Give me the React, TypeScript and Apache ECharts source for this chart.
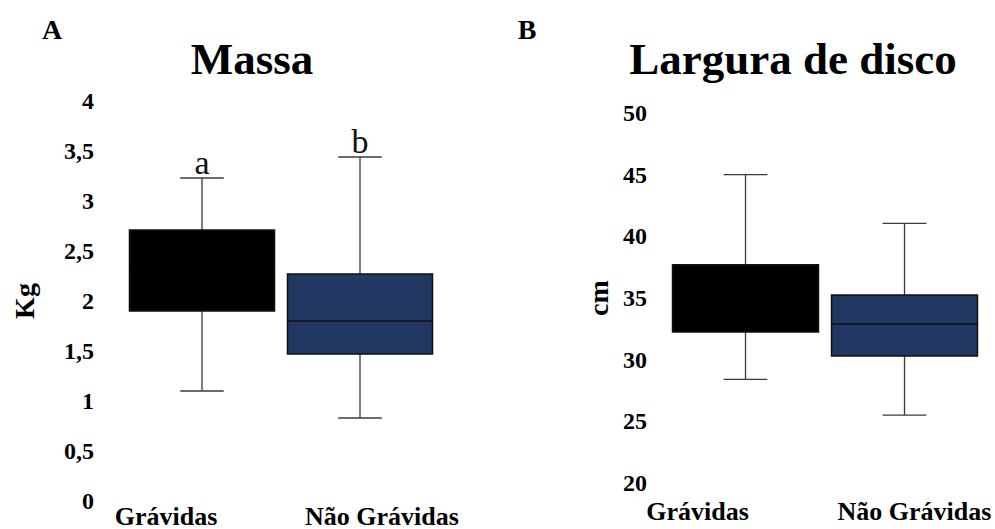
import React, { useEffect, useRef } from "react";
import * as echarts from "echarts";

// ---------- data ----------
const categories = ["Grávidas", "Não Grávidas"];

// Painel A – Massa (Kg)
const massaMin = [1.1, 0.83];
const massaQ1 = [1.9, 1.47];
const massaMedian = [2.3, 1.8];
const massaQ3 = [2.71, 2.27];
const massaMax = [3.23, 3.44];
const massaLetters = ["a", "b"];
const massaAxis = { min: 0, max: 4, interval: 0.5 };

// Painel B – Largura de disco (cm)
const discoMin = [28.4, 25.5];
const discoQ1 = [32.25, 30.3];
const discoMedian = [34.5, 32.9];
const discoQ3 = [37.7, 35.25];
const discoMax = [45.0, 41.05];
const discoAxis = { min: 20, max: 50, interval: 5 };

const panelLabels = ["A", "B"];
const panelTitles = ["Massa", "Largura de disco"];
const axisNames = ["Kg", "cm"];

const boxFills = ["#000000", "#213863"];
const SERIF = "Liberation Serif, serif";

function rows(mn: number[], q1: number[], md: number[], q3: number[], mx: number[]) {
  return categories.map((_, i) => [i, mn[i], q1[i], md[i], q3[i], mx[i]]);
}

function makeRender(letters: string[] | null) {
  return (params: any, api: any) => {
    const c = api.value(0);
    const lo = api.coord([c, api.value(1)]);
    const q1 = api.coord([c, api.value(2)]);
    const md = api.coord([c, api.value(3)]);
    const q3 = api.coord([c, api.value(4)]);
    const hi = api.coord([c, api.value(5)]);
    const band = api.size([1, 0])[0];
    const bw = band * 0.918;
    const cap = bw * 0.15;
    const x = lo[0];
    const whisker = { stroke: "#3a3a3a", lineWidth: 1.3 };
    const fill = boxFills[params.dataIndex];
    const children: any[] = [
      { type: "line", shape: { x1: x, y1: q3[1], x2: x, y2: hi[1] }, style: whisker },
      { type: "line", shape: { x1: x, y1: q1[1], x2: x, y2: lo[1] }, style: whisker },
      { type: "line", shape: { x1: x - cap, y1: hi[1], x2: x + cap, y2: hi[1] }, style: whisker },
      { type: "line", shape: { x1: x - cap, y1: lo[1], x2: x + cap, y2: lo[1] }, style: whisker },
      {
        type: "rect",
        shape: { x: x - bw / 2, y: q3[1], width: bw, height: q1[1] - q3[1] },
        style: { fill, stroke: "#111", lineWidth: 1.5 },
      },
      {
        type: "line",
        shape: { x1: x - bw / 2, y1: md[1], x2: x + bw / 2, y2: md[1] },
        style: { stroke: params.dataIndex === 0 ? fill : "#111", lineWidth: 1.5 },
      },
    ];
    if (letters) {
      children.push({
        type: "text",
        x,
        y: hi[1] + 1,
        style: {
          text: letters[params.dataIndex],
          fill: "#111",
          fontSize: 34,
          fontFamily: SERIF,
          align: "center",
          verticalAlign: "bottom",
        },
      });
    }
    return { type: "group", children };
  };
}

export default function App() {
  const ref = useRef<HTMLDivElement>(null);
  useEffect(() => {
    if (!ref.current) return;
    const chart = echarts.init(ref.current, null, { renderer: "svg" });
    const tickLabel = {
      color: "#000",
      fontFamily: SERIF,
      fontWeight: "bold" as const,
      fontSize: 24,
    };
    const xLabel = (shiftL: number, shiftR: number, margin: number) => ({
      interval: 0,
      margin,
      formatter: (v: string, i: number) => (i === 0 ? `{l|${v}}` : `{r|${v}}`),
      rich: {
        l: { fontFamily: SERIF, fontWeight: "bold", fontSize: 26, color: "#000", padding: [0, shiftL * 2, 0, 0] },
        r: { fontFamily: SERIF, fontWeight: "bold", fontSize: 26, color: "#000", padding: [0, 0, 0, shiftR * 2] },
      },
    });
    const nameStyle = { color: "#000", fontFamily: SERIF, fontWeight: "bold", fontSize: 28 };
    const textStyle = (size: number) => ({ fill: "#000", fontFamily: SERIF, fontWeight: "bold", fontSize: size, align: "center", verticalAlign: "middle" });
    const option: any = {
      animation: false,
      grid: [
        { left: 123, width: 316, top: 101, height: 400, outerBoundsMode: "none", containLabel: false },
        { left: 666, width: 318, top: 113, height: 370, outerBoundsMode: "none", containLabel: false },
      ],
      xAxis: [
        {
          gridIndex: 0,
          type: "category",
          data: categories,
          axisLine: { show: false },
          axisTick: { show: false },
          axisLabel: xLabel(36, 22, 2),
        },
        {
          gridIndex: 1,
          type: "category",
          data: categories,
          axisLine: { show: false },
          axisTick: { show: false },
          axisLabel: xLabel(48, 10, 15),
        },
      ],
      yAxis: [
        {
          gridIndex: 0,
          type: "value",
          min: massaAxis.min,
          max: massaAxis.max,
          interval: massaAxis.interval,
          axisLine: { show: false },
          axisTick: { show: false },
          splitLine: { show: false },
          axisLabel: { ...tickLabel, margin: 29, formatter: (v: number) => String(v).replace(".", ",") },
          name: axisNames[0],
          nameLocation: "middle",
          nameRotate: 90,
          nameGap: 85,
          nameTextStyle: nameStyle,
        },
        {
          gridIndex: 1,
          type: "value",
          min: discoAxis.min,
          max: discoAxis.max,
          interval: discoAxis.interval,
          axisLine: { show: false },
          axisTick: { show: false },
          splitLine: { show: false },
          axisLabel: { ...tickLabel, margin: 19 },
          name: axisNames[1],
          nameLocation: "middle",
          nameRotate: 90,
          nameGap: 54,
          nameTextStyle: nameStyle,
        },
      ],
      series: [
        {
          type: "custom",
          xAxisIndex: 0,
          yAxisIndex: 0,
          data: rows(massaMin, massaQ1, massaMedian, massaQ3, massaMax),
          encode: { x: 0, y: [1, 2, 3, 4, 5] },
          renderItem: makeRender(massaLetters),
        },
        {
          type: "custom",
          xAxisIndex: 1,
          yAxisIndex: 1,
          data: rows(discoMin, discoQ1, discoMedian, discoQ3, discoMax),
          encode: { x: 0, y: [1, 2, 3, 4, 5] },
          renderItem: makeRender(null),
        },
      ],
      graphic: [
        { type: "text", x: 52, y: 29, style: { text: panelLabels[0], ...textStyle(28) } },
        { type: "text", x: 527, y: 29, style: { text: panelLabels[1], ...textStyle(28) } },
        { type: "text", x: 252, y: 59, style: { text: panelTitles[0], ...textStyle(45) } },
        { type: "text", x: 793, y: 59, style: { text: panelTitles[1], ...textStyle(45) } },
      ],
    };
    chart.setOption(option);
    return () => chart.dispose();
  }, []);
  return (
    <div
      ref={ref}
      style={{ position: "fixed", left: 0, top: 0, width: 995, height: 529, background: "#fff" }}
    />
  );
}
